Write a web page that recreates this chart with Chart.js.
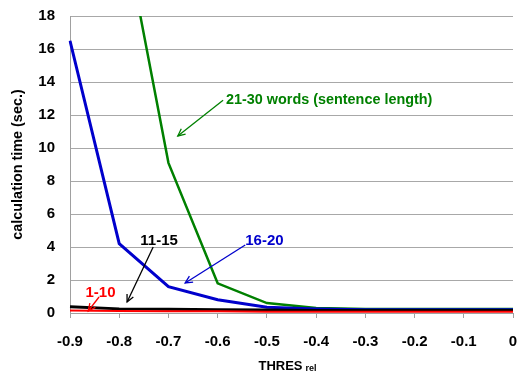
<!DOCTYPE html>
<html><head><meta charset="utf-8">
<script src="https://cdn.jsdelivr.net/npm/chart.js@4"></script>
<style>html,body{margin:0;padding:0;background:#fff}#wrap{width:518px;height:374px;position:relative}</style>
</head><body><div id="wrap"><canvas id="c" width="518" height="374"></canvas></div>
<script>
// ---- data ----
const categories = ['-0.9','-0.8','-0.7','-0.6','-0.5','-0.4','-0.3','-0.2','-0.1','0'];
const seriesNames = ['1-10','11-15','16-20','21-30 words (sentence length)'];
const series1to10  = [0.15, 0.12, 0.10, 0.10, 0.08, 0.08, 0.08, 0.08, 0.08, 0.08];
const series11to15 = [0.38, 0.25, 0.22, 0.20, 0.18, 0.15, 0.15, 0.15, 0.15, 0.15];
const series16to20 = [16.5, 4.2, 1.6, 0.8, 0.35, 0.25, 0.2, 0.2, 0.2, 0.2];
const series21to30 = [80, 24.7, 9.1, 1.8, 0.6, 0.3, 0.25, 0.25, 0.25, 0.25];
const seriesColors = ['#ff0000', '#000000', '#0000cc', '#008000'];
const yMin = 0, yMax = 18, yStep = 2;
const yTitle = 'calculation time (sec.)';
const xTitleMain = 'THRES', xTitleSub = 'rel';
// annotation labels: text anchor and arrow start/end in data units (category index, value)
const annTexts  = ['1-10', '11-15', '16-20', '21-30 words (sentence length)'];
const annTextAt = [[0.62, 1.21], [1.81, 4.36], [3.56, 4.36], [3.17, 12.9]];
const annAlign  = ['center', 'center', 'left', 'left'];
const annFrom   = [[0.59, 0.97], [1.69, 4.0], [3.56, 4.12], [3.11, 12.9]];
const annTo     = [[0.37, 0.12], [1.16, 0.67], [2.34, 1.82], [2.19, 10.73]];

const FONT = "'Liberation Sans', Arial, sans-serif";

const annotationPlugin = {
  id: 'arrowLabels',
  afterDatasetsDraw(chart) {
    const {ctx, scales: {x, y}} = chart;
    ctx.save();
    for (let i = 0; i < annTexts.length; i++) {
      const col = seriesColors[i];
      const fx = x.getPixelForValue(annFrom[i][0]), fy = y.getPixelForValue(annFrom[i][1]);
      const tx = x.getPixelForValue(annTo[i][0]), ty = y.getPixelForValue(annTo[i][1]);
      ctx.strokeStyle = col; ctx.lineWidth = 1.3;
      ctx.beginPath(); ctx.moveTo(fx, fy); ctx.lineTo(tx, ty); ctx.stroke();
      const ang = Math.atan2(ty - fy, tx - fx), L = 8, a = 0.45;
      ctx.beginPath();
      ctx.moveTo(tx - L * Math.cos(ang - a), ty - L * Math.sin(ang - a));
      ctx.lineTo(tx, ty);
      ctx.lineTo(tx - L * Math.cos(ang + a), ty - L * Math.sin(ang + a));
      ctx.stroke();
      ctx.fillStyle = col;
      ctx.font = (i === 3 ? 'bold 14.4px ' : 'bold 15px ') + FONT;
      ctx.textAlign = annAlign[i]; ctx.textBaseline = 'middle';
      ctx.fillText(annTexts[i], x.getPixelForValue(annTextAt[i][0]), y.getPixelForValue(annTextAt[i][1]));
    }
    ctx.restore();
  },
  afterDraw(chart) {
    const {ctx, chartArea} = chart;
    ctx.save();
    ctx.fillStyle = '#000';
    ctx.textBaseline = 'alphabetic';
    ctx.font = 'bold 13px ' + FONT;
    const w1 = ctx.measureText(xTitleMain).width;
    ctx.font = 'bold 9px ' + FONT;
    const w2 = ctx.measureText(xTitleSub).width;
    const total = w1 + 3 + w2;
    const cx = (chartArea.left + chartArea.right) / 2 - 4;
    const sx = cx - total / 2, base = 370;
    ctx.textAlign = 'left';
    ctx.font = 'bold 13px ' + FONT;
    ctx.fillText(xTitleMain, sx, base);
    ctx.font = 'bold 9px ' + FONT;
    ctx.fillText(xTitleSub, sx + w1 + 3, base + 1);
    ctx.restore();
  }
};

const dataSets = [series1to10, series11to15, series16to20, series21to30];
const widths = [2, 3, 3, 2.5];

new Chart(document.getElementById('c'), {
  type: 'line',
  data: {
    labels: categories,
    datasets: dataSets.map((d, i) => ({
      label: seriesNames[i],
      data: d,
      borderColor: seriesColors[i],
      backgroundColor: seriesColors[i],
      borderWidth: widths[i],
      pointRadius: 0,
      tension: 0,
      fill: false
    }))
  },
  options: {
    responsive: false,
    animation: false,
    devicePixelRatio: 1,
    layout: {autoPadding: false, padding: {top: 16, right: 5, left: 0, bottom: 0}},
    plugins: {legend: {display: false}, tooltip: {enabled: false}},
    scales: {
      x: {
        type: 'category',
        offset: false,
        grid: {display: true, drawOnChartArea: false, drawTicks: true, tickLength: 5, color: '#a0a0a0'},
        border: {color: '#a0a0a0'},
        ticks: {font: {family: FONT, size: 15, weight: 'bold'}, color: '#000', padding: 15, maxRotation: 0, autoSkip: false},
        afterFit(s) { s.height = 61; s.paddingLeft = 0; s.paddingRight = 0; }
      },
      y: {
        min: yMin, max: yMax,
        ticks: {stepSize: yStep, font: {family: FONT, size: 15, weight: 'bold'}, color: '#000', padding: 15},
        grid: {color: '#a8a8a8', drawTicks: false},
        border: {color: '#a0a0a0'},
        title: {display: true, text: yTitle, color: '#000', font: {family: FONT, size: 14.4, weight: 'bold'}, padding: {top: 9, bottom: 0}},
        afterFit(s) { s.width = 70; s.paddingTop = 0; s.paddingBottom = 0; }
      }
    }
  },
  plugins: [annotationPlugin]
});
</script>
</body></html>
